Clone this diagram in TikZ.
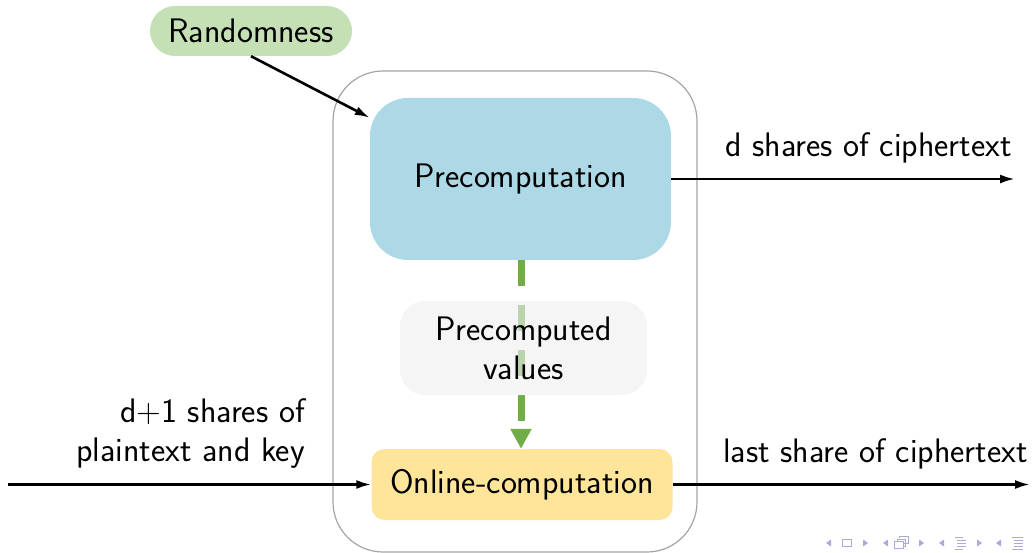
\documentclass[tikz,border=0pt]{standalone}
\usetikzlibrary{arrows.meta}

\definecolor{randgreen}{RGB}{197,224,180}
\definecolor{preblue}{RGB}{173,216,230}
\definecolor{onyellow}{RGB}{255,229,153}
\definecolor{pvgray}{RGB}{238,238,238}
\definecolor{flowgreen}{RGB}{112,173,71}
\definecolor{framegray}{RGB}{165,165,165}
\definecolor{navcol}{RGB}{170,170,222}

\begin{document}
\begin{tikzpicture}[x=1pt,y=-1pt,
  every node/.style={font=\fontsize{34}{39}\selectfont\sffamily, inner sep=0pt},
  box/.style={rectangle, draw=none, align=center},
  flow/.style={line width=2.6pt, -{Latex[length=15pt,width=9pt]}},
  datapath/.style={flowgreen, line width=7pt, dash pattern=on 26pt off 19pt,
    -{Triangle[length=20pt,width=20pt]}},
  lbl/.style={align=right},
  navsym/.style={navcol, line width=1pt}]

\useasboundingbox (0,0) rectangle (1033,553);

% enclosing frame of the masked implementation
\draw[framegray, line width=1.2pt, rounded corners=50pt] (333,71) rectangle (697,552);

% processing blocks
\node[box, fill=randgreen, minimum width=202pt, minimum height=50pt, rounded corners=25pt]
  (rand) at (251,31) {Randomness};
\node[box, fill=preblue, minimum width=301pt, minimum height=162pt, rounded corners=38pt]
  (pre) at (520.5,179) {Precomputation};
\node[box, fill=onyellow, minimum width=301pt, minimum height=71pt, rounded corners=13pt]
  (onl) at (522,484.5) {Online-computation};

% data handed from precomputation to online phase
\draw[datapath] (pre.south -| 521,0) -- (onl.north -| 521,0);
\node[box, fill=pvgray, fill opacity=0.6, text opacity=1, minimum width=247pt,
  minimum height=94pt, rounded corners=25pt] (pv) at (523.5,348) {Precomputed\\values};

% inputs and outputs
\coordinate (inL) at (8,484.5);
\coordinate (outT) at (1015,179);
\coordinate (outB) at (1030,484.5);

\draw[flow] (rand.south) -- ([yshift=-20pt]pre.north west);
\draw[flow] (pre.east) -- (outT);
\draw[flow] (inL) -- (onl.west);
\draw[flow] (onl.east) -- (outB);

\node[lbl, anchor=base east] (lt) at (1012,157) {d shares of ciphertext};
\node[lbl, anchor=base east] (lb) at (1028,462) {last share of ciphertext};
\node[lbl, anchor=south east] (li) at (305,469) {d+1 shares of\\plaintext and key};

% navigation symbols
\begin{scope}[navsym]
  \fill (831,539.5) -- (826,543) -- (831,546.5) -- cycle;
  \draw (842.5,539.5) rectangle (851,546.5);
  \fill (863,539.5) -- (868,543) -- (863,546.5) -- cycle;
  \fill (888,539.5) -- (883,543) -- (888,546.5) -- cycle;
  \draw (894.5,541) rectangle (903,548);
  \draw (899.5,538) -- (899.5,536.5) -- (908,536.5) -- (908,543.5) -- (903,543.5);
  \draw (897,541) -- (897,539) -- (905.5,539) -- (905.5,546) -- (903,546);
  \fill (919,539.5) -- (924,543) -- (919,546.5) -- cycle;
  \fill (944,539.5) -- (939,543) -- (944,546.5) -- cycle;
  \draw (955,537.5) -- (963,537.5) (957,540.5) -- (966,540.5) (957,543.5) -- (966,543.5)
        (957,546.5) -- (966,546.5) (955,549.5) -- (963,549.5);
  \fill (977,539.5) -- (982,543) -- (977,546.5) -- cycle;
  \fill (1001,539.5) -- (996,543) -- (1001,546.5) -- cycle;
  \draw[line width=1.6pt] (1012,537.5) -- (1023,537.5);
  \draw (1014,540.5) -- (1023,540.5) (1014,543.5) -- (1023,543.5)
        (1014,546.5) -- (1023,546.5) (1012,549.5) -- (1023,549.5);
\end{scope}
\end{tikzpicture}
\end{document}
